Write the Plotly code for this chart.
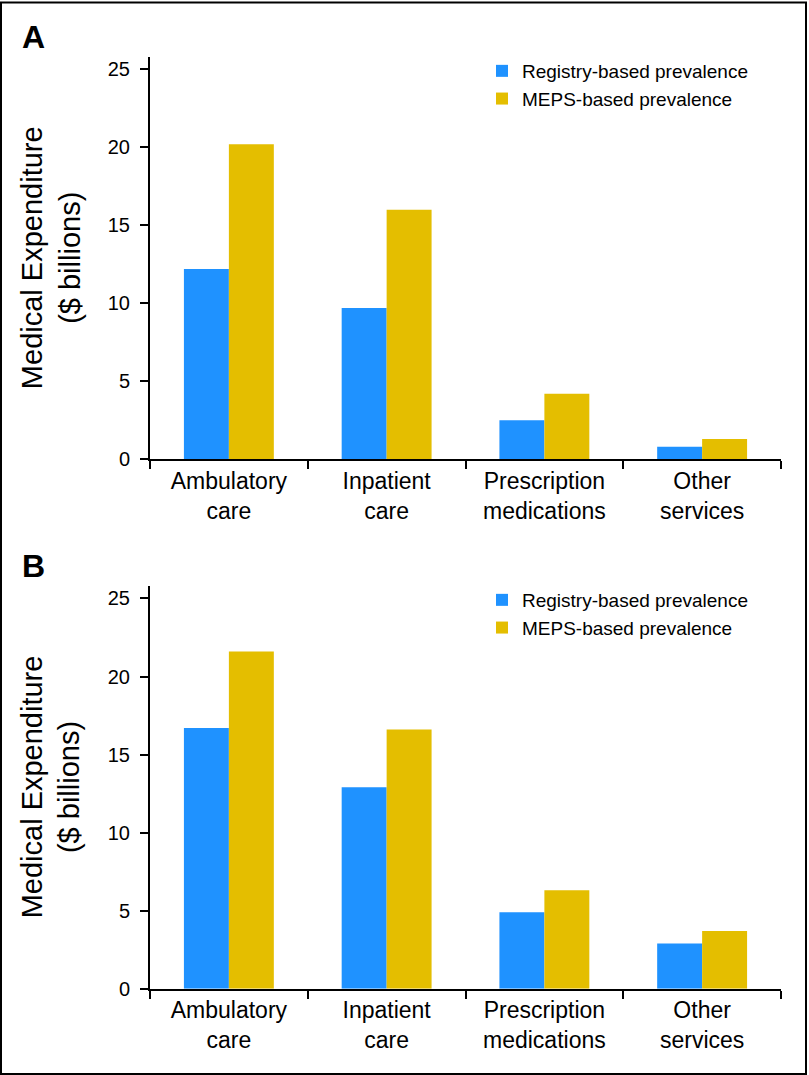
import plotly.graph_objects as go

categories = ["Ambulatory<br>care", "Inpatient<br>care", "Prescription<br>medications", "Other<br>services"]
series_names = ["Registry-based prevalence", "MEPS-based prevalence"]
registry_a = [12.2, 9.7, 2.5, 0.8]
meps_a = [20.2, 16.0, 4.2, 1.3]
registry_b = [16.7, 12.9, 4.9, 2.9]
meps_b = [21.6, 16.6, 6.3, 3.7]
y_ticks = [0, 5, 10, 15, 20, 25]
panel_labels = ["A", "B"]
y_title = "Medical Expenditure<br>($ billions)"

W, H = 809, 1075
BLUE = "#1F92FF"
GOLD = "#E4BE00"
FONT = "Liberation Sans, Arial, Helvetica, sans-serif"


def px(x):
    return x / W


def py(y):
    return 1 - y / H


fig = go.Figure()
panels = [
    (registry_a, meps_a, "x", "y", "legend"),
    (registry_b, meps_b, "x2", "y2", "legend2"),
]
for reg, meps, xa, ya, lg in panels:
    fig.add_trace(go.Bar(x=categories, y=reg, name=series_names[0], marker=dict(color=BLUE, line=dict(width=0)),
                         xaxis=xa, yaxis=ya, legend=lg))
    fig.add_trace(go.Bar(x=categories, y=meps, name=series_names[1], marker=dict(color=GOLD, line=dict(width=0)),
                         xaxis=xa, yaxis=ya, legend=lg))

xdom = [px(150), px(781)]
ydoms = [[py(459.3), py(57)], [py(988.7), py(586)]]

common_x = dict(
    domain=xdom, range=[-0.5, 3.5], type="category", showline=True, linecolor="black", linewidth=2,
    ticks="outside", tickson="boundaries", ticklen=8, tickwidth=2, tickcolor="black",
    showgrid=False, zeroline=False, tickfont=dict(family=FONT, size=23, color="black"),
)
common_y = dict(
    range=[0, 25.8], tickvals=y_ticks, showline=True, linecolor="black", linewidth=2,
    ticks="outside", ticklen=8, tickwidth=2, tickcolor="black", showgrid=False, zeroline=False,
    tickfont=dict(family=FONT, size=20, color="black"), ticklabelstandoff=6,
)

fig.update_layout(
    width=W, height=H,
    margin=dict(l=0, r=0, t=0, b=0, autoexpand=False),
    paper_bgcolor="white", plot_bgcolor="white",
    barmode="group", bargap=0.43, bargroupgap=0,
    font=dict(family=FONT, color="black"),
    xaxis=dict(common_x, anchor="y"),
    yaxis=dict(common_y, domain=ydoms[0], anchor="x"),
    xaxis2=dict(common_x, anchor="y2"),
    yaxis2=dict(common_y, domain=ydoms[1], anchor="x2"),
    legend=dict(x=px(482), y=py(52), xanchor="left", yanchor="top", bgcolor="rgba(0,0,0,0)",
                font=dict(family=FONT, size=19, color="black"), tracegroupgap=0, itemwidth=30),
    legend2=dict(x=px(482), y=py(581), xanchor="left", yanchor="top", bgcolor="rgba(0,0,0,0)",
                 font=dict(family=FONT, size=19, color="black"), tracegroupgap=0, itemwidth=30),
    showlegend=True,
)

annotations = []
for label, (y0, y1), ly in zip(panel_labels, ydoms, [37, 566]):
    annotations.append(dict(text="<b>%s</b>" % label, x=px(33), y=py(ly), xref="paper", yref="paper",
                            xanchor="center", yanchor="middle", showarrow=False,
                            font=dict(family=FONT, size=32, color="black")))
    annotations.append(dict(text=y_title, x=px(51), y=(y0 + y1) / 2, xref="paper", yref="paper",
                            xanchor="center", yanchor="middle", showarrow=False, textangle=-90,
                            font=dict(family=FONT, size=29, color="black")))
fig.update_layout(annotations=annotations)

fig.add_shape(type="rect", xref="paper", yref="paper", x0=px(1), x1=px(806), y0=py(1074), y1=py(2.5),
              line=dict(color="black", width=2), fillcolor="rgba(0,0,0,0)", layer="above")

fig.write_html("out.html", config={"displayModeBar": False},
               post_script="document.body.style.margin='0';document.body.style.padding='0';")
